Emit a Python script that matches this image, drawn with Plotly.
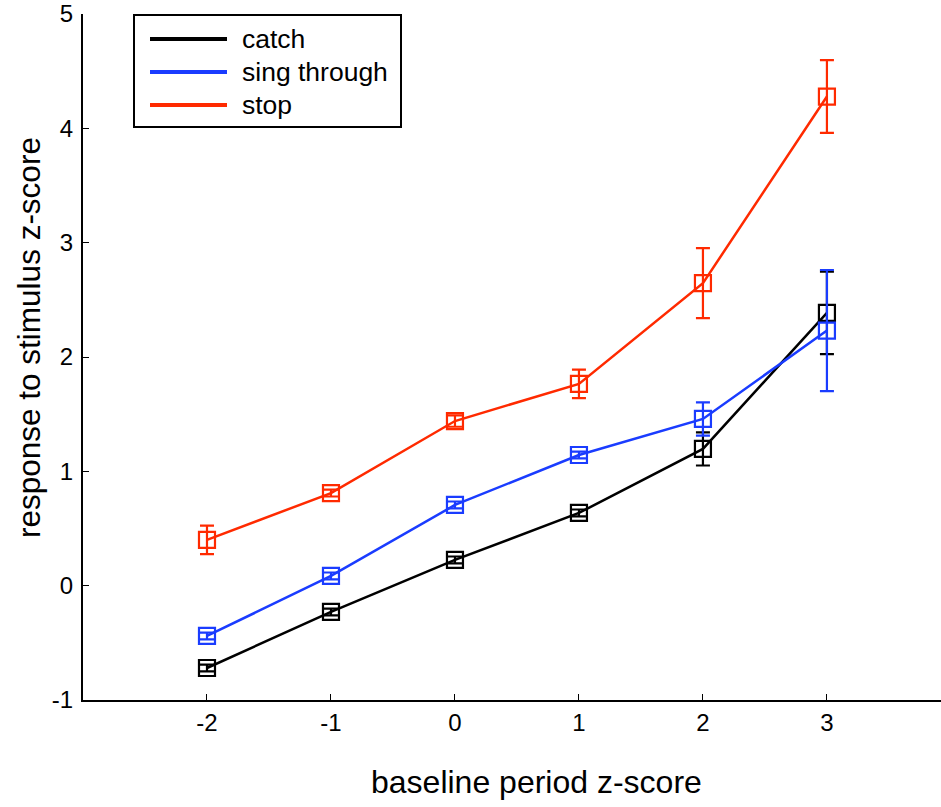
import plotly.graph_objects as go

# Baseline bins (z-score) and mean response per condition, with error half-widths
baseline = [-2, -1, 0, 1, 2, 3]

catch_mean = [-0.72, -0.23, 0.225, 0.636, 1.196, 2.386]
catch_err = [0.03, 0.03, 0.03, 0.03, 0.145, 0.36]

sing_mean = [-0.44, 0.085, 0.706, 1.143, 1.458, 2.231]
sing_err = [0.03, 0.03, 0.03, 0.03, 0.145, 0.53]

stop_mean = [0.40, 0.81, 1.44, 1.765, 2.646, 4.278]
stop_err = [0.125, 0.03, 0.05, 0.125, 0.306, 0.318]

series_names = ["catch", "sing through", "stop"]
series_colors = ["#000000", "#1a3cff", "#ff2a00"]
series_means = [catch_mean, sing_mean, stop_mean]
series_errs = [catch_err, sing_err, stop_err]

x_ticks = [-2, -1, 0, 1, 2, 3]
y_ticks = [-1, 0, 1, 2, 3, 4, 5]

W, H = 941, 807
ML, MR, MT, MB = 83, 0, 14, 107
FONT = "Liberation Sans, Arial, Helvetica, sans-serif"

fig = go.Figure()
for name, color, mean, err in zip(series_names, series_colors, series_means, series_errs):
    fig.add_trace(go.Scatter(
        x=baseline, y=mean, name=name, mode="lines+markers",
        line=dict(color=color, width=2.5),
        marker=dict(symbol="square-open", size=16, color=color, line=dict(width=2.2, color=color)),
        error_y=dict(type="data", array=err, visible=True, color=color, thickness=2.2, width=7),
        showlegend=False,
    ))

# Pixel -> paper coordinate helpers for the legend and titles
pw, ph = W - ML - MR, H - MT - MB


def px(x):
    return (x - ML) / pw


def py(y):
    return 1 - (y - MT) / ph


shapes = [dict(type="rect", xref="paper", yref="paper",
               x0=px(134), x1=px(401), y0=py(127), y1=py(15),
               line=dict(color="black", width=2), fillcolor="white", layer="above")]
annotations = []
legend_rows = [39, 72, 105]
for name, color, yy in zip(series_names, series_colors, legend_rows):
    shapes.append(dict(type="line", xref="paper", yref="paper",
                       x0=px(150), x1=px(227), y0=py(yy), y1=py(yy),
                       line=dict(color=color, width=4), layer="above"))
    annotations.append(dict(xref="paper", yref="paper", x=px(240), y=py(yy),
                            text=name, showarrow=False, xanchor="left", yanchor="middle",
                            font=dict(family=FONT, size=26.5, color="black")))

# Axis titles
annotations.append(dict(xref="paper", yref="paper", x=px(536), y=py(782),
                        text="baseline period z-score", showarrow=False,
                        xanchor="center", yanchor="middle",
                        font=dict(family=FONT, size=32, color="black")))
annotations.append(dict(xref="paper", yref="paper", x=px(29), y=py(338),
                        text="response to stimulus z-score", showarrow=False, textangle=-90,
                        xanchor="center", yanchor="middle",
                        font=dict(family=FONT, size=31.5, color="black")))

fig.update_layout(
    width=W, height=H,
    margin=dict(l=ML, r=MR, t=MT, b=MB, pad=0),
    paper_bgcolor="white", plot_bgcolor="white",
    font=dict(family=FONT, color="black"),
    shapes=shapes, annotations=annotations,
    showlegend=False,
)
fig.update_xaxes(
    range=[-3, 3.92], tickvals=x_ticks, ticktext=[str(v) for v in x_ticks],
    showgrid=False, zeroline=False, showline=True, linecolor="black", linewidth=2,
    ticks="inside", ticklen=6, tickwidth=1, tickcolor="black",
    tickfont=dict(size=24), ticklabelstandoff=0,
    automargin=False,
)
fig.update_yaxes(
    range=[-1, 5], tickvals=y_ticks, ticktext=[str(v) for v in y_ticks],
    showgrid=False, zeroline=False, showline=True, linecolor="black", linewidth=2,
    ticks="inside", ticklen=6, tickwidth=1, tickcolor="black",
    tickfont=dict(size=24), ticklabelstandoff=3,
    automargin=False,
)

fig.write_html("out.html")
